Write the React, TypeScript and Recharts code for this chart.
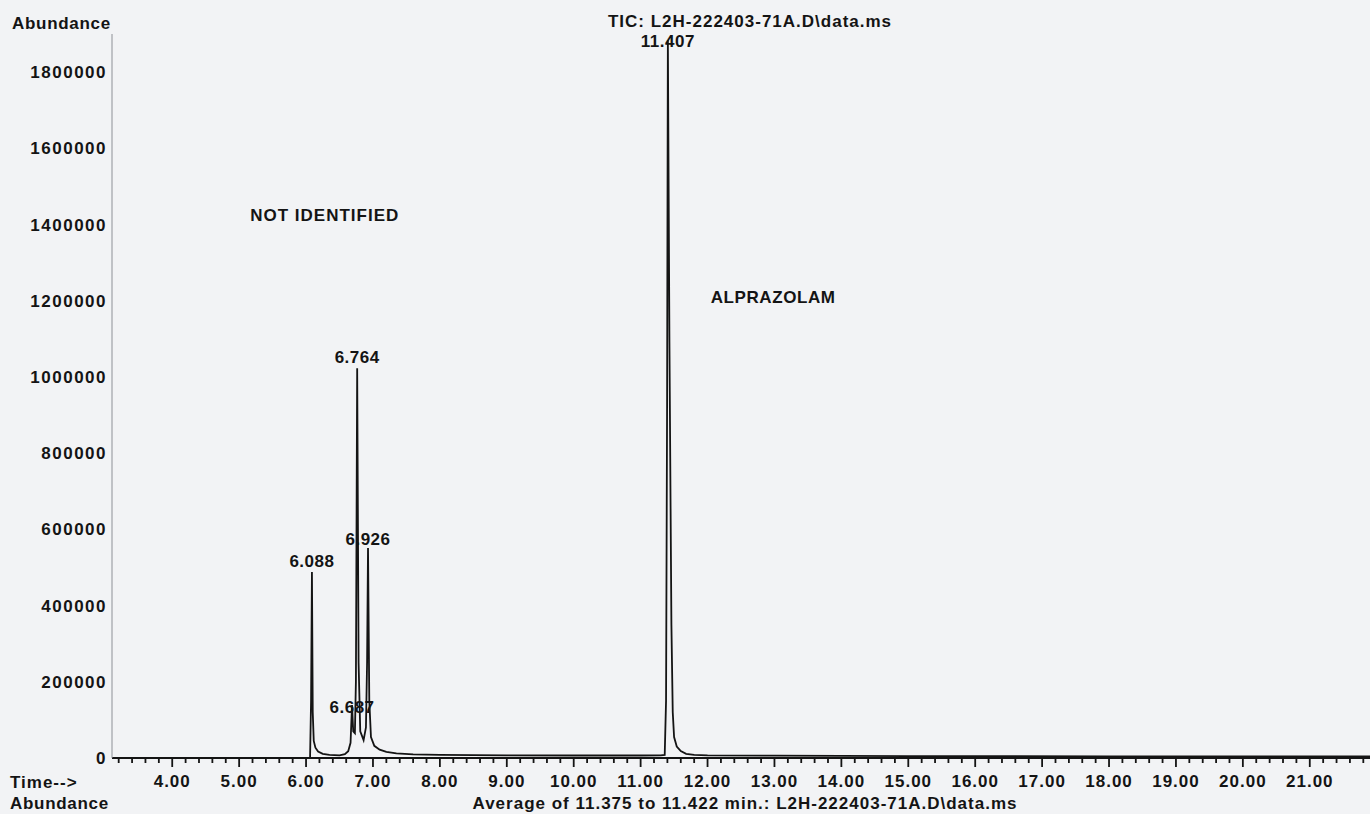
import { LineChart, Line, XAxis, YAxis, ReferenceDot } from 'recharts';

// TIC trace
const retentionTimes = [
  3.1, 6.06, 6.075, 6.088, 6.1, 6.115, 6.14, 6.18, 6.25, 6.35, 6.5, 6.58, 6.63, 6.665, 6.687,
  6.705, 6.73, 6.745, 6.764, 6.785, 6.81, 6.86, 6.895, 6.912, 6.926, 6.945, 6.97, 7.02, 7.1,
  7.2, 7.35, 7.6, 8.0, 9.0, 10.0, 11.0, 11.3, 11.36, 11.38, 11.395, 11.407, 11.43, 11.46,
  11.48, 11.5, 11.54, 11.6, 11.68, 11.8, 12.0, 13.0, 15.0, 18.0, 21.9,
];
const abundances = [
  0, 0, 150000, 488000, 120000, 45000, 27000, 17000, 11000, 8000, 7000, 10000, 18000, 40000, 139000,
  70000, 65000, 200000, 1023000, 250000, 70000, 47000, 80000, 250000, 551000, 150000, 55000, 32000, 22000,
  16000, 12000, 9500, 8000, 7000, 6500, 6500, 7000, 8000, 150000, 900000, 1884000, 1100000, 350000,
  120000, 55000, 30000, 18000, 11000, 8000, 7000, 6000, 5000, 4500, 4000,
];

const peakLabels = ['6.088', '6.687', '6.764', '6.926', '11.407'];
const peakTimes = [6.088, 6.687, 6.764, 6.926, 11.407];
const peakHeights = [488000, 139000, 1023000, 551000, 1884000];

const abundanceTicks = [0, 200000, 400000, 600000, 800000, 1000000, 1200000, 1400000, 1600000, 1800000];
const majorTimeTicks = [4, 5, 6, 7, 8, 9, 10, 11, 12, 13, 14, 15, 16, 17, 18, 19, 20, 21];

// minor ticks every 0.2 min between the labelled ones
const timeTicks: number[] = [];
for (let i = 16; i <= 109; i++) timeTicks.push(Math.round(i * 20) / 100);

const rows = retentionTimes.map((t, i) => ({ time: t, abundance: abundances[i] }));

const font = '"Liberation Sans", Arial, sans-serif';
const ink = '#141414';

// label nudges where the scan prints the number across the peak line
const labelOffset: Record<string, number> = { '6.088': 5, '6.687': -8, '6.764': 5, '6.926': 3, '11.407': -7 };

function TimeTick(props: any) {
  const { x, y, payload } = props;
  const v = payload.value;
  const major = majorTimeTicks.some((m) => Math.abs(m - v) < 1e-6);
  return (
    <g>
      <line x1={x} x2={x} y1={y} y2={y + (major ? 9 : 5)} stroke={ink} strokeWidth={1.8} />
      {major && (
        <text x={x} y={y + 29} textAnchor="middle" fill={ink} fontFamily={font} fontSize={17} fontWeight={700} letterSpacing={1}>
          {v.toFixed(2)}
        </text>
      )}
    </g>
  );
}

const textStyle = { fontFamily: font, fontSize: 17, fontWeight: 700, fill: ink, letterSpacing: 1 } as const;

export default function App() {
  return (
    <div style={{ position: 'absolute', left: 0, top: 0, width: 1370, height: 814, background: '#f2f3f5' }}>
      <LineChart width={1370} height={814} data={rows} margin={{ top: 34, right: 0, bottom: 0, left: 0 }}>
        <XAxis
          dataKey="time"
          type="number"
          domain={[3.1, 21.9]}
          allowDataOverflow
          ticks={timeTicks}
          interval={0}
          height={56}
          tickSize={0}
          tickMargin={0}
          tickLine={false}
          axisLine={{ stroke: ink, strokeWidth: 2 }}
          tick={<TimeTick />}
        />
        <YAxis
          type="number"
          domain={[0, 1900000]}
          ticks={abundanceTicks}
          interval={0}
          width={112}
          tickSize={0}
          tickMargin={5}
          tickLine={false}
          axisLine={{ stroke: '#8d9096', strokeWidth: 1 }}
          tick={{ fontFamily: font, fontSize: 17, fontWeight: 700, fill: ink, letterSpacing: 1.5 }}
        />
        <Line
          type="linear"
          dataKey="abundance"
          stroke={ink}
          strokeWidth={1.8}
          dot={false}
          isAnimationActive={false}
        />
        {peakTimes.map((t, i) => (
          <ReferenceDot
            key={peakLabels[i]}
            x={t}
            y={peakHeights[i]}
            r={0}
            fill="none"
            stroke="none"
            label={{ value: peakLabels[i], position: 'top', offset: labelOffset[peakLabels[i]], ...textStyle, letterSpacing: 0.5 }}
          />
        ))}
        <ReferenceDot x={6.28} y={1425000} r={0} fill="none" stroke="none"
          label={{ value: 'NOT IDENTIFIED', position: 'center', ...textStyle }} />
        <ReferenceDot x={12.98} y={1210000} r={0} fill="none" stroke="none"
          label={{ value: 'ALPRAZOLAM', position: 'center', ...textStyle, letterSpacing: 0.6 }} />
      </LineChart>
      <svg width={1370} height={814} style={{ position: 'absolute', left: 0, top: 0, pointerEvents: 'none' }}>
        <g fontFamily={font} fontSize={17} fontWeight={700} fill={ink} letterSpacing={1}>
          <text x={12} y={29} letterSpacing={0.7}>Abundance</text>
          <text x={750} y={27} textAnchor="middle">TIC: L2H-222403-71A.D\data.ms</text>
          <text x={10} y={788}>Time--&gt;</text>
          <text x={10} y={809} letterSpacing={0.7}>Abundance</text>
          <text x={745} y={809} textAnchor="middle">Average of 11.375 to 11.422 min.: L2H-222403-71A.D\data.ms</text>
        </g>
      </svg>
    </div>
  );
}
